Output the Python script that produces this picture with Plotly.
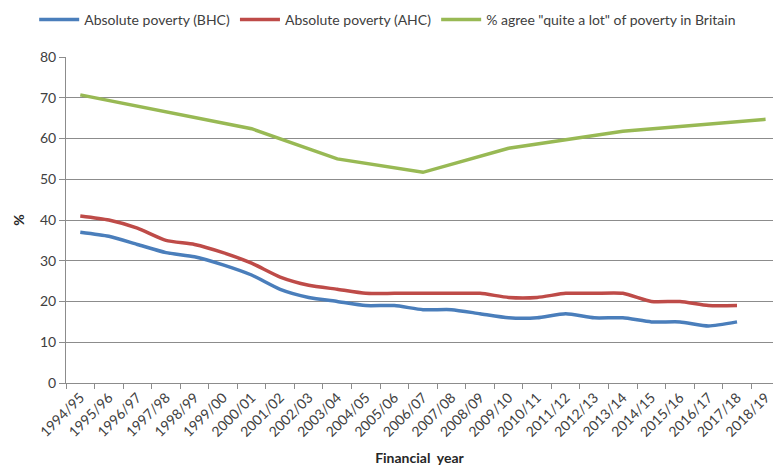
import plotly.graph_objects as go

years = ["1994/95", "1995/96", "1996/97", "1997/98", "1998/99", "1999/00", "2000/01",
         "2001/02", "2002/03", "2003/04", "2004/05", "2005/06", "2006/07", "2007/08",
         "2008/09", "2009/10", "2010/11", "2011/12", "2012/13", "2013/14", "2014/15",
         "2015/16", "2016/17", "2017/18", "2018/19"]

bhc = [37, 36, 34, 32, 31, 29, 26.5, 23, 21, 20, 19, 19, 18, 18, 17, 16, 16, 17, 16, 16,
       15, 15, 14, 15, None]
ahc = [41, 40, 38, 35, 34, 32, 29.4, 26, 24, 23, 22, 22, 22, 22, 22, 21, 21, 22, 22, 22,
       20, 20, 19, 19, None]
# survey years only; line joins them
agree = [70.7, None, None, None, None, None, 62.4, None, None, 55.0, None, None, 51.7,
         None, None, 57.6, None, None, None, 61.8, None, None, None, None, 64.7]

font = "Lato, sans-serif"
grid = "#8c8c8c"
txt = "#404040"

fig = go.Figure()
fig.add_trace(go.Scatter(x=years, y=bhc, name="Absolute poverty (BHC)", mode="lines",
                         line=dict(color="#4A7EBB", width=3.5, shape="spline", smoothing=0.6)))
fig.add_trace(go.Scatter(x=years, y=ahc, name="Absolute poverty (AHC)", mode="lines",
                         line=dict(color="#BE4B48", width=3.5, shape="spline", smoothing=0.6)))
fig.add_trace(go.Scatter(x=years, y=agree, name='% agree "quite a lot" of poverty in Britain',
                         mode="lines", connectgaps=True,
                         line=dict(color="#98B954", width=3.5)))

fig.update_layout(
    width=773, height=472,
    margin=dict(l=66, r=0, t=57, b=89),
    paper_bgcolor="white", plot_bgcolor="white",
    font=dict(family=font, size=13, color=txt),
    showlegend=True,
    legend=dict(orientation="h", x=0.455, xanchor="center", y=1.065, yanchor="bottom",
                font=dict(size=14, color=txt), itemwidth=40, tracegroupgap=0,
                traceorder="normal"),
    xaxis=dict(type="category", range=[-0.5, 24.26], tickangle=-45,
               showline=True, linecolor=grid, linewidth=1,
               ticks="outside", ticklen=5, tickcolor=grid, tickson="boundaries",
               showgrid=False, tickfont=dict(size=14, color=txt),
               title=dict(text="<b>Financial  year</b>", font=dict(size=14, color="#262626"),
                          standoff=14)),
    yaxis=dict(range=[0, 80], dtick=10, showgrid=True, gridcolor=grid, gridwidth=1,
               showline=True, linecolor=grid, linewidth=1, zeroline=False,
               ticks="outside", ticklen=6, tickcolor=grid,
               tickfont=dict(size=14, color=txt),
               title=dict(text="<b>%</b>", font=dict(size=14, color="#262626"), standoff=12)),
)

fig.write_html("out.html")
